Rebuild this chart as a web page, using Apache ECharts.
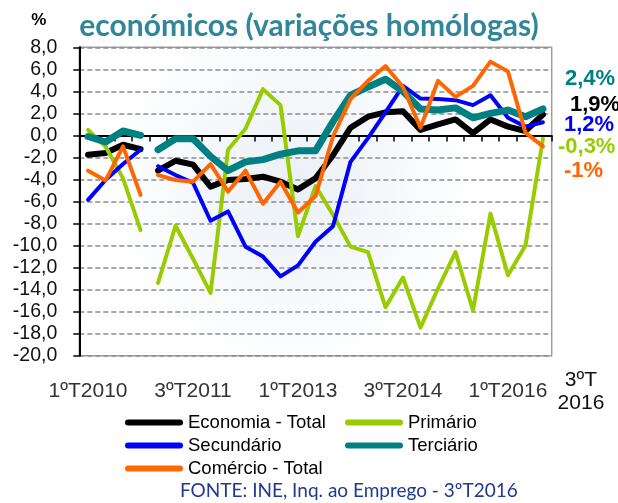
<!DOCTYPE html>
<html>
<head>
<meta charset="utf-8">
<script src="https://cdn.jsdelivr.net/npm/echarts@6/dist/echarts.min.js"></script>
<style>
html,body{margin:0;padding:0;background:#fff;}
#chart{width:618px;height:503px;}
</style>
</head>
<body>
<div id="chart"></div>
<script>
// ---- data ----
const categories = [
  '1ºT2010','2ºT2010','3ºT2010','4ºT2010',
  '1ºT2011','2ºT2011','3ºT2011','4ºT2011',
  '1ºT2012','2ºT2012','3ºT2012','4ºT2012',
  '1ºT2013','2ºT2013','3ºT2013','4ºT2013',
  '1ºT2014','2ºT2014','3ºT2014','4ºT2014',
  '1ºT2015','2ºT2015','3ºT2015','4ºT2015',
  '1ºT2016','2ºT2016','3ºT2016'
];
const lastLabel = '3ºT\n2016';
const seriesNames = ['Economia - Total','Primário','Secundário','Terciário','Comércio - Total'];
// 2010 (old series)
const economia2010 = [-1.75, -1.6, -0.85, -1.25];
const primario2010 = [0.5, -1.0, -3.9, -8.6];
const secundario2010 = [-5.85, -4.05, -2.6, -1.3];
const terciario2010 = [-0.1, -0.6, 0.4, 0.0];
const comercio2010 = [-3.2, -4.1, -1.0, -5.4];
// 2011 onwards (new series)
const economia = [-3.2, -2.3, -2.65, -4.65, -4.05, -3.95, -3.75, -4.2, -4.9, -3.9, -1.8, 0.7, 1.7, 2.1, 2.2, 0.5, 1.0, 1.45, 0.2, 1.45, 0.8, 0.4, 1.9];
const primario = [-13.4, -8.2, -11.2, -14.3, -1.3, 0.6, 4.2, 2.75, -9.15, -4.6, -7.2, -10.1, -10.6, -15.6, -12.9, -17.45, -13.9, -10.6, -15.9, -7.1, -12.7, -10.0, -0.3];
const secundario = [-2.8, -3.6, -4.3, -7.75, -6.9, -10.1, -11.0, -12.8, -11.8, -9.65, -8.25, -2.4, -0.25, 2.1, 4.5, 3.35, 3.3, 3.2, 2.75, 3.65, 1.6, 0.8, 1.2];
const terciario = [-1.3, -0.3, -0.3, -1.9, -3.2, -2.4, -2.2, -1.7, -1.4, -1.4, 1.25, 3.65, 4.4, 5.1, 4.0, 2.4, 2.3, 2.5, 1.6, 2.0, 2.3, 1.7, 2.4];
const comercio = [-3.6, -4.05, -4.2, -2.6, -5.1, -3.2, -6.2, -4.2, -7.0, -5.5, -0.1, 3.3, 4.95, 6.3, 4.4, 0.7, 4.95, 3.5, 4.5, 6.7, 5.8, 0.25, -1.0];
const endLabels = ['1,9%', '-0,3%', '1,2%', '2,4%', '-1%'];
const yTicks = {min: -20, max: 8, step: 2};

// ---- styling ----
const colors = ['#000000', '#99CC00', '#0000FF', '#008080', '#FF6600'];
const widths = [6, 4, 4, 7, 4];
const labelOffsets = [[19, -10], [7, 8], [13, 2.5], [14, -30], [13, 25]];
const oldData = [economia2010, primario2010, secundario2010, terciario2010, comercio2010];
const newData = [economia, primario, secundario, terciario, comercio];
const pad = n => new Array(n).fill(null);

const series = [];
seriesNames.forEach((name, i) => {
  series.push({
    name, type: 'line', data: oldData[i], symbol: 'none', z: 2 + i,
    lineStyle: {color: colors[i], width: widths[i], cap: 'round', join: 'round'},
    itemStyle: {color: colors[i]}
  });
  series.push({
    name, type: 'line', data: pad(4).concat(newData[i]), symbol: 'none', z: 2 + i,
    lineStyle: {color: colors[i], width: widths[i], cap: 'round', join: 'round'},
    itemStyle: {color: colors[i]},
    endLabel: {
      show: true, formatter: endLabels[i], color: colors[i],
      fontFamily: 'Liberation Sans', fontWeight: 'bold', fontSize: 22,
      offset: labelOffsets[i]
    }
  });
});

const chart = echarts.init(document.getElementById('chart'), null, {renderer: 'canvas'});
const lastIdx = categories.length - 1;
chart.setOption({
  animation: false,
  backgroundColor: '#ffffff',
  title: [{
    text: 'económicos (variações homólogas)',
    left: 'center', top: 6,
    textStyle: {color: '#31869B', fontFamily: 'Lato', fontWeight: 'bold', fontSize: 30}
  }, {
    text: 'FONTE: INE, Inq. ao Emprego - 3ºT2016',
    left: 180, top: 481, padding: 0,
    textStyle: {color: '#1F3A8F', fontFamily: 'Lato', fontWeight: 'normal', fontSize: 19}
  }],
  legend: {
    data: seriesNames,
    left: 125, top: 413, width: 460, padding: 0,
    orient: 'horizontal',
    icon: 'path://M3,0H55A3,3,0,0,1,55,6H3A3,3,0,0,1,3,0Z',
    itemWidth: 58, itemHeight: 6, itemGap: 4,
    textStyle: {fontFamily: 'Liberation Sans', fontSize: 18.5, color: '#000', width: 153, lineHeight: 19, overflow: 'none'}
  },
  grid: {
    left: 79.3, right: 66.3, top: 47.3, bottom: 147.3,
    show: true,
    borderColor: '#a0a0a0', borderWidth: 1.5,
    backgroundColor: new echarts.graphic.RadialGradient(0.45, 0.45, 0.6, [
      {offset: 0, color: '#eaf0f6'}, {offset: 1, color: '#ffffff'}
    ])
  },
  xAxis: [{
    type: 'category', data: categories, boundaryGap: true,
    axisLine: {lineStyle: {color: '#000', width: 2}},
    axisTick: {show: true, interval: 0, length: 6, lineStyle: {color: '#000', width: 1.5}},
    axisLabel: {
      interval: (idx) => idx % 6 === 0,
      margin: 36, verticalAlign: 'middle',
      fontFamily: 'Liberation Sans', fontSize: 21, color: '#333', lineHeight: 22
    },
    splitLine: {show: false}
  }, {
    type: 'category', data: categories, boundaryGap: true, position: 'bottom',
    axisLine: {show: false}, axisTick: {show: false}, splitLine: {show: false},
    axisLabel: {
      interval: (idx) => idx === lastIdx,
      formatter: () => lastLabel,
      margin: 36, verticalAlign: 'middle', align: 'center',
      padding: [0, 0, 0, 76],
      fontFamily: 'Liberation Sans', fontSize: 21, color: '#111', lineHeight: 23
    }
  }],
  yAxis: {
    type: 'value', min: yTicks.min, max: yTicks.max, interval: yTicks.step,
    name: '%', nameLocation: 'end', nameGap: 27,
    nameTextStyle: {fontFamily: 'Liberation Sans', fontWeight: 'bold', fontSize: 17, color: '#000', align: 'right', verticalAlign: 'middle', padding: [0, 33, 0, 0]},
    axisLine: {show: true, lineStyle: {color: '#000', width: 2}},
    axisTick: {show: true, length: 6, lineStyle: {color: '#000', width: 1.5}},
    axisLabel: {
      margin: 22, fontFamily: 'Liberation Sans', fontSize: 19.5, color: '#111',
      formatter: v => v.toFixed(1).replace('.', ',')
    },
    splitLine: {show: true, lineStyle: {color: '#8c8c8c', width: 1.5, type: [5, 3]}}
  },
  series
});
</script>
</body>
</html>
